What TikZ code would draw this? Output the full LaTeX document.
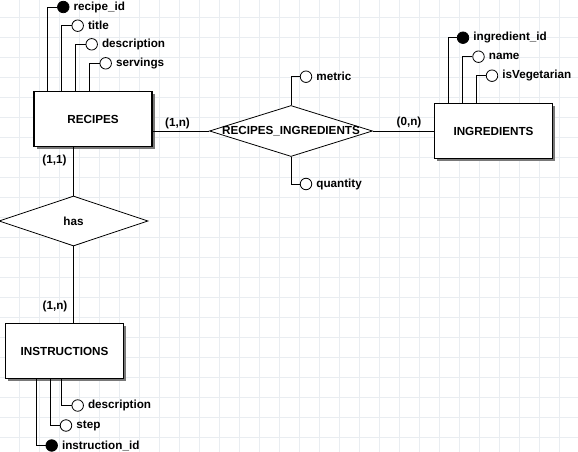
\documentclass[tikz,border=0pt]{standalone}
\usepackage{fontspec}
\setmainfont{Liberation Sans}
\usepackage{tikz}
\usetikzlibrary{shapes.geometric,shadows,calc}
\tikzset{>=stealth}
\definecolor{gridcol}{RGB}{233,237,241}
\definecolor{shadowcol}{RGB}{120,120,120}
\newcommand\erfont{\fontsize{11.7}{13}\selectfont\bfseries}
\tikzset{
  entity/.style={draw, line width=1.5pt, fill=white, minimum width=118pt, minimum height=55pt,
    drop shadow={shadow xshift=2.75pt, shadow yshift=-2.75pt, fill=shadowcol, opacity=1}, font=\erfont},
  rel/.style={diamond, draw, line width=.8pt, fill=white, inner sep=0pt},
  attr/.style={circle, draw, line width=.8pt, fill=white, minimum size=11.5pt, inner sep=0pt,
    label={[font=\erfont, inner sep=1pt, label distance=3pt]right:#1}},
  key/.style={attr=#1, fill=black},
  card/.style={font=\erfont, inner sep=0pt},
  link/.style={line width=.8pt},
  gridline/.style={draw=gridcol, line width=.8pt}
}

\begin{document}
\begin{tikzpicture}[x=1pt,y=-1pt]
\fill[white] (0,0) rectangle (578,452);
\useasboundingbox (0,0) rectangle (578,452);
% grid
\foreach \gx in {19,39,...,579} \draw[gridline] (\gx,0) -- (\gx,452);
\foreach \gy in {17,37,...,457} \draw[gridline] (0,\gy) -- (578,\gy);

% entities
\node[entity] (recipes) at (93,119) {RECIPES};
\node[entity] (ingredients) at (493.5,131) {INGREDIENTS};
\node[entity] (instructions) at (64.5,351) {INSTRUCTIONS};

% relations
\node[rel, minimum width=163pt, minimum height=51pt, label={[font=\erfont]center:RECIPES\_INGREDIENTS}] (recing) at (291,131) {};
\node[rel, minimum width=149pt, minimum height=50pt, label={[font=\erfont]center:has}] (has) at (73.5,221) {};

% attributes
\node[key=recipe\_id] (rid) at (63.3,7) {};
\node[attr=title] (rtitle) at (77.7,25.7) {};
\node[attr=description] (rdesc) at (91.7,44.3) {};
\node[attr=servings] (rserv) at (105.7,63.3) {};
\node[key=ingredient\_id] (iid) at (463,37.7) {};
\node[attr=name] (iname) at (478.5,56.7) {};
\node[attr=isVegetarian] (iveg) at (492,75.7) {};
\node[attr=description] (sdesc) at (77.7,405.5) {};
\node[attr=step] (sstep) at (66,425.5) {};
\node[key=instruction\_id] (sid) at (51.7,445.5) {};
\node[attr=metric] (metric) at (306,76.7) {};
\node[attr=quantity] (qty) at (306,184) {};

\draw[link] (recipes.north west) ++(14,0) |- (rid.west);
\draw[link] (recipes.north west) ++(28,0) |- (rtitle.west);
\draw[link] (recipes.north west) ++(42,0) |- (rdesc.west);
\draw[link] (recipes.north west) ++(56,0) |- (rserv.west);
\draw[link] (ingredients.north west) ++(14.5,0) |- (iid.west);
\draw[link] (ingredients.north west) ++(28.5,0) |- (iname.west);
\draw[link] (ingredients.north west) ++(42.5,0) |- (iveg.west);
\draw[link] (instructions.south west) ++(57,0) |- (sdesc.west);
\draw[link] (instructions.south west) ++(46,0) |- (sstep.west);
\draw[link] (instructions.south west) ++(32,0) |- (sid.west);
\draw[link] (recing.north) |- (metric.west);
\draw[link] (recing.south) |- (qty.west);

% connectors
\draw[link] (recing.west -| recipes.east) -- (recing.west);
\draw[link] (recing.east) -- (ingredients.west);
\draw[link] (has.north |- recipes.south) -- (has.north);
\draw[link] (has.south) -- (has.south |- instructions.north);

% cardinalities
\node[card] (c1) at (177.5,123) {(1,n)};
\node[card] (c2) at (409,122.5) {(0,n)};
\node[card] (c3) at (54.5,160) {(1,1)};
\node[card] (c4) at (55,306.5) {(1,n)};
\end{tikzpicture}
\end{document}
